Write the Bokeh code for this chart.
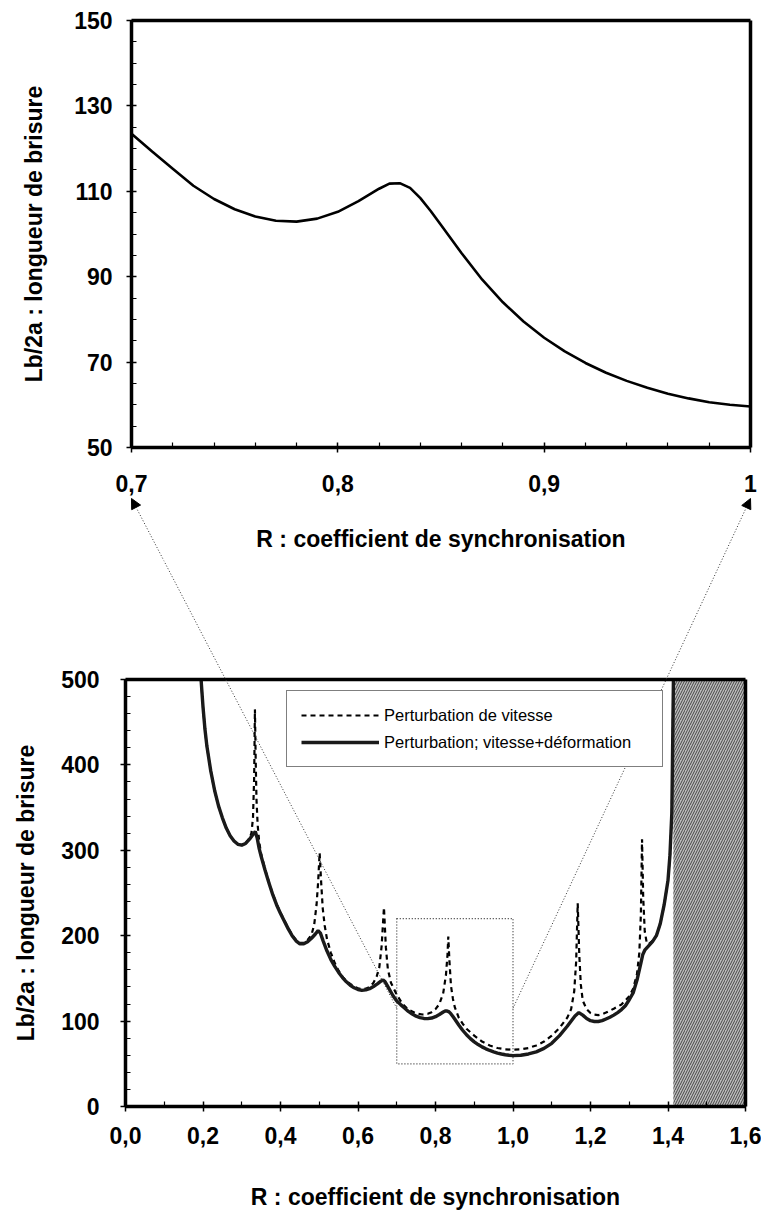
from bokeh.plotting import figure
from bokeh.models import (Range1d, FixedTicker, CustomJSTickFormatter, Legend, LegendItem,
                          Arrow, NormalHead, LinearAxis)
from bokeh.layouts import column
from bokeh.embed import file_html
from bokeh.resources import INLINE

FONT = "Liberation Sans"

# ---------------- data ----------------
# Perturbation: vitesse+déformation (solid curve)
solid_r = [0.195, 0.200, 0.205, 0.210, 0.220, 0.230, 0.240, 0.250, 0.260, 0.270,
           0.280, 0.290, 0.300, 0.310, 0.320, 0.328, 0.335, 0.340, 0.345, 0.350,
           0.360, 0.370, 0.380, 0.390, 0.400, 0.410, 0.420, 0.430, 0.440, 0.450,
           0.460, 0.470, 0.480, 0.490, 0.497, 0.503, 0.510, 0.520, 0.530, 0.540,
           0.550, 0.560, 0.570, 0.580, 0.590, 0.600, 0.610, 0.620, 0.630, 0.640,
           0.650, 0.660, 0.665, 0.670, 0.680, 0.690, 0.700, 0.710, 0.720, 0.730,
           0.740, 0.750, 0.760, 0.770, 0.780, 0.790, 0.800, 0.810, 0.820, 0.825,
           0.830, 0.835, 0.840, 0.845, 0.850, 0.860, 0.870, 0.880, 0.890, 0.900,
           0.910, 0.920, 0.930, 0.940, 0.950, 0.960, 0.970, 0.980, 0.990, 1.000,
           1.020, 1.040, 1.060, 1.080, 1.100, 1.120, 1.140, 1.160, 1.170, 1.180,
           1.190, 1.200, 1.210, 1.220, 1.230, 1.240, 1.250, 1.260, 1.270, 1.280,
           1.290, 1.300, 1.310, 1.320, 1.330, 1.335, 1.340, 1.350, 1.360, 1.370,
           1.380, 1.390, 1.400, 1.405, 1.410, 1.414]
solid_lb = [500, 468, 442, 422, 393, 370, 352, 338, 326, 317,
            311, 307, 306, 308, 313, 318, 322, 314, 302, 293,
            277, 262, 248, 236, 226, 217, 208, 200, 194, 190.5,
            190.5, 193, 197, 202, 206, 203, 194, 182, 172, 164,
            157, 151, 146, 142, 139, 137, 136, 136.5, 138, 140.5,
            143.5, 147, 148, 146, 138, 130, 123.5, 119.3, 115.3, 111.3,
            108.2, 105.8, 104.1, 103.1, 102.9, 103.6, 105.2, 107.7, 110.6, 111.8,
            111.9, 110.8, 108.4, 105.4, 102.1, 95.5, 89.3, 84, 79.5, 75.7,
            72.5, 69.8, 67.5, 65.6, 64, 62.6, 61.5, 60.6, 60, 59.6,
            60, 61.5, 64, 68, 74, 83, 94, 106, 110, 107,
            103, 100.5, 99.5, 99.5, 100.5, 102.5, 104.5, 107, 110, 113.5,
            118, 125, 133, 148, 168, 178, 183, 188, 193, 200,
            214, 236, 265, 294, 345, 500]

# Perturbation de vitesse (dashed curve)
dash_r = [0.195, 0.200, 0.205, 0.210, 0.220, 0.230, 0.240, 0.250, 0.260, 0.270,
          0.280, 0.290, 0.300, 0.310, 0.320, 0.325, 0.329, 0.332, 0.334, 0.336,
          0.338, 0.341, 0.345, 0.350, 0.360, 0.370, 0.380, 0.390, 0.400, 0.410,
          0.420, 0.430, 0.440, 0.450, 0.460, 0.470, 0.480, 0.487, 0.493, 0.497,
          0.501, 0.505, 0.509, 0.514, 0.520, 0.530, 0.540, 0.550, 0.560, 0.570,
          0.580, 0.590, 0.600, 0.610, 0.620, 0.630, 0.640, 0.648, 0.655, 0.661,
          0.667, 0.672, 0.677, 0.685, 0.700, 0.715, 0.730, 0.750, 0.766, 0.780,
          0.790, 0.800, 0.810, 0.820, 0.827, 0.831, 0.833, 0.836, 0.840, 0.845,
          0.850, 0.860, 0.870, 0.880, 0.900, 0.920, 0.940, 0.960, 0.980, 1.000,
          1.020, 1.040, 1.060, 1.080, 1.100, 1.120, 1.140, 1.150, 1.158, 1.163,
          1.167, 1.171, 1.175, 1.180, 1.190, 1.200, 1.210, 1.220, 1.230, 1.240,
          1.260, 1.280, 1.300, 1.310, 1.320, 1.326, 1.330, 1.333, 1.336, 1.340,
          1.345, 1.350, 1.360, 1.370, 1.380, 1.390, 1.400, 1.405, 1.410, 1.414]
dash_lb = [500, 468, 442, 422, 393, 370, 352, 338, 326, 317,
           311, 307, 306, 308, 314, 320, 338, 385, 465, 405,
           360, 330, 310, 296, 278, 263, 249, 237, 227, 218,
           209, 201, 195, 191.5, 191.5, 195, 201, 213, 236, 262,
           297, 262, 232, 212, 196, 180, 168, 159, 152, 147,
           143.5, 140.5, 138.5, 137.5, 138, 140, 145, 152, 163, 188,
           233, 186, 161, 145, 131, 120, 113.5, 109, 107.7, 108.5,
           110.5, 114, 120, 133, 154, 178, 199, 170, 141, 126,
           116, 104, 97, 91, 83, 76, 71.5, 68.5, 67, 66.5,
           67, 68.5, 71.5, 76, 83, 92, 104, 114, 135, 170,
           238, 178, 143, 124, 114, 109.5, 107.5, 107, 108, 110,
           114.5, 119.5, 129, 138, 155, 180, 225, 313, 245, 205,
           192, 190, 194, 200, 214, 236, 265, 294, 345, 500]

# Axis ticks
top_xticks = [0.7, 0.8, 0.9, 1.0]
top_xminor = [0.72, 0.74, 0.76, 0.78, 0.82, 0.84, 0.86, 0.88, 0.92, 0.94, 0.96, 0.98]
top_yticks = [50, 70, 90, 110, 130, 150]
top_yminor = [55, 60, 65, 75, 80, 85, 95, 100, 105, 115, 120, 125, 135, 140, 145]
bot_xticks = [0.0, 0.2, 0.4, 0.6, 0.8, 1.0, 1.2, 1.4, 1.6]
bot_xminor = [0.1, 0.3, 0.5, 0.7, 0.9, 1.1, 1.3, 1.5]
bot_yticks = [0, 100, 200, 300, 400, 500]
bot_yminor = [20, 40, 60, 80, 120, 140, 160, 180, 220, 240, 260, 280,
              320, 340, 360, 380, 420, 440, 460, 480]

# Zoomed window, excluded region (R > sqrt(2)) and connector anchor
zoom_r = [0.7, 1.0]
zoom_lb = [50, 220]
limit_r = 1.414
link_lb = 115

# ---------------- layout constants (page pixels) ----------------
PAGE_W, PAGE_H = 761, 1214
SPLIT = 560                                    # boundary between the two canvases
TOP_X0, TOP_Y0, TOP_X1, TOP_Y1 = 131, 20, 750, 447     # top chart box
BOT_X0, BOT_Y0, BOT_X1, BOT_Y1 = 125, 679, 745, 1106   # bottom chart box
ARROW_GAP = 51

TX = (0.7, 1.0)
TY = (50, 150)
BXR = (0.0, 1.6)
BYR = (0, 500)


def lin(p0, p1, v0, v1):
    """pixel -> data mapping helpers for one axis"""
    k = (v1 - v0) / (p1 - p0)
    return (lambda P: v0 + (P - p0) * k), (lambda v: p0 + (v - v0) / k)


top_xd, top_xp = lin(TOP_X0, TOP_X1, TX[0], TX[1])
top_yd, top_yp = lin(TOP_Y1, TOP_Y0, TY[0], TY[1])
bot_xd, bot_xp = lin(BOT_X0, BOT_X1, BXR[0], BXR[1])
bot_yd, bot_yp = lin(BOT_Y1, BOT_Y0, BYR[0], BYR[1])


def style_axis(ax):
    ax.axis_line_width = 3.5
    ax.axis_line_color = "black"
    ax.major_tick_line_color = "black"
    ax.minor_tick_line_color = "black"
    ax.major_tick_line_width = 1.5
    ax.minor_tick_line_width = 1.2
    ax.major_tick_in = 5
    ax.major_tick_out = 5
    ax.minor_tick_in = 5
    ax.minor_tick_out = 0
    ax.major_label_text_font = FONT
    ax.major_label_text_font_style = "bold"
    ax.major_label_text_font_size = "23px"
    ax.major_label_text_color = "black"
    ax.axis_label_text_font = FONT
    ax.axis_label_text_font_style = "bold"
    ax.axis_label_text_font_size = "23px"
    ax.axis_label_text_color = "black"


def border_axis(loc, bounds):
    return LinearAxis(ticker=FixedTicker(ticks=[]), axis_line_width=3.5, axis_line_color="black",
                      major_tick_in=0, major_tick_out=0, minor_tick_in=0, minor_tick_out=0,
                      major_label_text_alpha=0, major_label_text_font_size="1px",
                      fixed_location=loc, bounds=bounds)


def make_fig(height, xr, yr):
    p = figure(width=PAGE_W, height=height, x_range=Range1d(*xr), y_range=Range1d(*yr),
               output_backend="svg", toolbar_location=None,
               min_border=0, min_border_left=0, min_border_right=0,
               min_border_top=0, min_border_bottom=0,
               x_axis_label="R : coefficient de synchronisation",
               y_axis_label="Lb/2a : longueur de brisure")
    style_axis(p.xaxis[0])
    style_axis(p.yaxis[0])
    p.xgrid.visible = False
    p.ygrid.visible = False
    p.outline_line_color = None
    p.background_fill_color = "white"
    p.border_fill_color = "white"
    return p


# ---------------- top (zoomed) chart ----------------
top = make_fig(SPLIT, (top_xd(0), top_xd(PAGE_W)), (top_yd(SPLIT), top_yd(0)))
top.xaxis.ticker = FixedTicker(ticks=top_xticks, minor_ticks=top_xminor)
top.yaxis.ticker = FixedTicker(ticks=top_yticks, minor_ticks=top_yminor)
top.xaxis.formatter = CustomJSTickFormatter(
    code="return Math.abs(tick - 1) < 1e-9 ? '1' : tick.toFixed(1).replace('.', ',');")
top.xaxis.fixed_location = TY[0]
top.xaxis.bounds = TX
top.xaxis.major_label_standoff = 22
top.xaxis.axis_label_standoff = 31
top.yaxis.fixed_location = TX[0]
top.yaxis.bounds = TY
top.yaxis.major_label_standoff = 14
top.yaxis.axis_label_standoff = 24
top.add_layout(border_axis(TX[1], TY), "right")
top.add_layout(border_axis(TY[1], TX), "above")

zr = [r for r in solid_r if TX[0] <= r <= TX[1]]
zl = [l for r, l in zip(solid_r, solid_lb) if TX[0] <= r <= TX[1]]
top.line(zr, zl, line_color="black", line_width=2.6)

# ---------------- bottom (full) chart ----------------
bot = make_fig(PAGE_H - SPLIT, (bot_xd(0), bot_xd(PAGE_W)), (bot_yd(PAGE_H), bot_yd(SPLIT)))
bot.xaxis.ticker = FixedTicker(ticks=bot_xticks, minor_ticks=bot_xminor)
bot.yaxis.ticker = FixedTicker(ticks=bot_yticks, minor_ticks=bot_yminor)
bot.xaxis.formatter = CustomJSTickFormatter(code="return tick.toFixed(1).replace('.', ',');")
bot.xaxis.fixed_location = BYR[0]
bot.xaxis.bounds = BXR
bot.xaxis.major_label_standoff = 15
bot.xaxis.axis_label_standoff = 37
bot.yaxis.fixed_location = BXR[0]
bot.yaxis.bounds = BYR
bot.yaxis.major_label_standoff = 21
bot.yaxis.axis_label_standoff = 19
bot.add_layout(border_axis(BXR[1], BYR), "right")
bot.add_layout(border_axis(BYR[1], BXR), "above")

bot.quad(left=[limit_r], right=[BXR[1]], bottom=[BYR[0]], top=[BYR[1]],
         fill_color="#bdbdbd", line_color=None,
         hatch_pattern="/", hatch_color="#454545", hatch_scale=5, hatch_weight=1)
bot.quad(left=[zoom_r[0]], right=[zoom_r[1]], bottom=[zoom_lb[0]], top=[zoom_lb[1]],
         fill_color=None, line_color="#333333", line_width=1.2, line_dash="1 2")

r_dash = bot.line(dash_r, dash_lb, line_color="black", line_width=2.2, line_dash="5 4")
r_solid = bot.line(solid_r, solid_lb, line_color="#1a1a1a", line_width=3.4)

legend = Legend(items=[LegendItem(label="Perturbation de vitesse", renderers=[r_dash]),
                       LegendItem(label="Perturbation; vitesse+déformation", renderers=[r_solid])],
                location=(286, PAGE_H - 767),
                border_line_color="black", border_line_width=1,
                background_fill_color="white", background_fill_alpha=1,
                padding=14, spacing=7, margin=0,
                glyph_width=78, glyph_height=20, label_height=20, label_standoff=5,
                label_width=264,
                label_text_font=FONT, label_text_font_size="16.5px", label_text_color="black")
bot.add_layout(legend)

# ---------------- connectors (dotted lines with arrowheads) ----------------
for i in range(2):
    tip = (top_xp(zoom_r[i]), top_yp(TY[0]) + ARROW_GAP)     # page pixels
    end = (bot_xp(zoom_r[i]), bot_yp(link_lb))                # page pixels
    top.add_layout(Arrow(x_start=top_xd(end[0]), y_start=top_yd(end[1]),
                         x_end=top_xd(tip[0]), y_end=top_yd(tip[1]),
                         start=None,
                         end=NormalHead(size=10, fill_color="black", line_color="black"),
                         line_color="#333333", line_width=1, line_dash="1 2"))
    bot.add_layout(Arrow(x_start=bot_xd(end[0]), y_start=bot_yd(end[1]),
                         x_end=bot_xd(tip[0]), y_end=bot_yd(tip[1]),
                         start=None, end=None,
                         line_color="#333333", line_width=1, line_dash="1 2"))

layout = column(top, bot, spacing=0)
open("out.html", "w").write(file_html(layout, INLINE))
